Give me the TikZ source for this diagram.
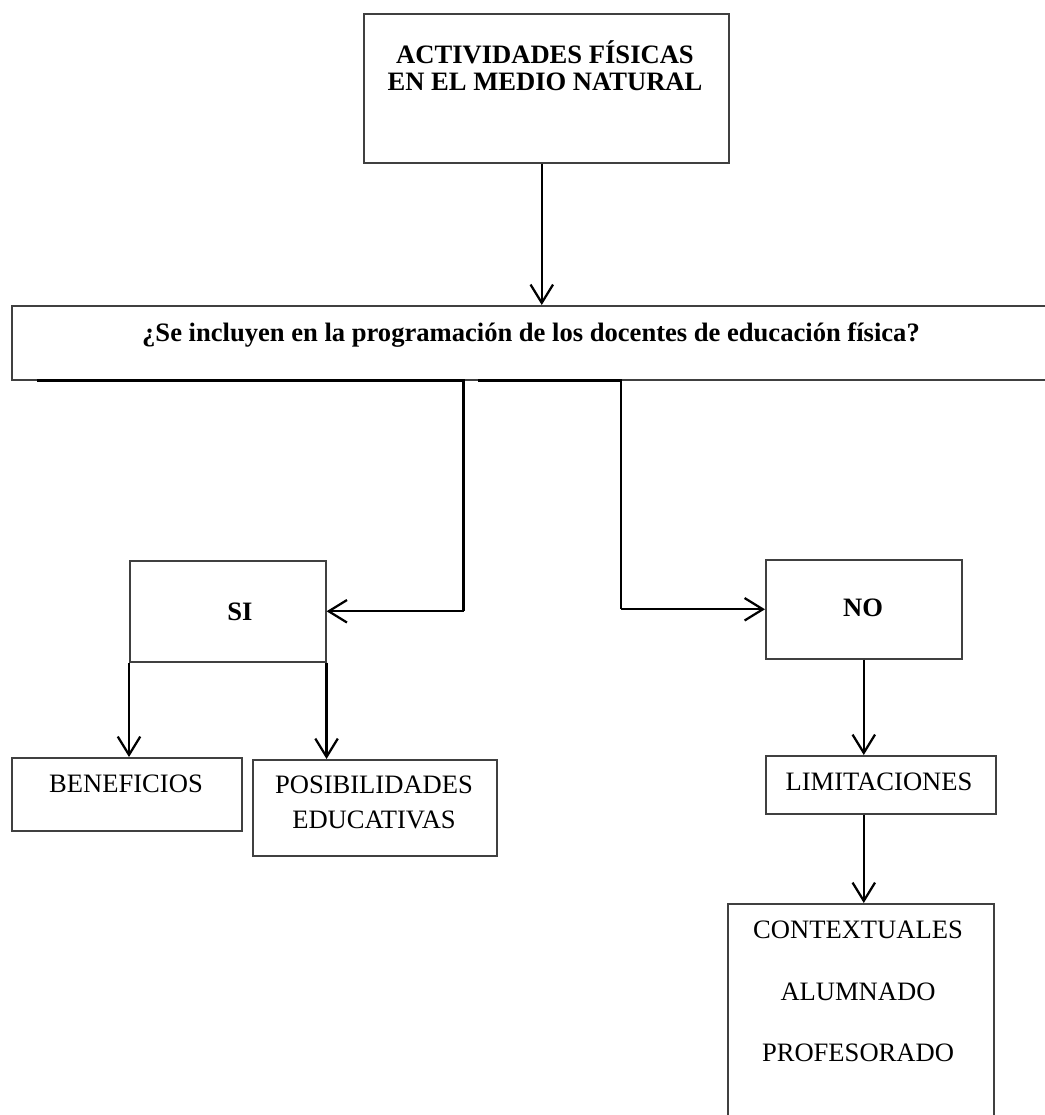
\documentclass[tikz,border=0pt]{standalone}
\usepackage{fontspec}
\setmainfont{Liberation Serif}
\usetikzlibrary{arrows.meta,calc}
\definecolor{boxgray}{HTML}{404040}
\newlength\px
\setlength\px{0.025cm}
\tikzset{
  every picture/.style={
    line join=miter,
    >={Straight Barb[length=13pt,width=16pt]},
  },
  box/.style={draw=boxgray, line width=1.1pt, anchor=north west, inner sep=0pt},
  link/.style={->, black, line width=1.6pt},
  lbl/.style={font=\fontsize{18.9}{25}\selectfont, align=center, inner sep=0pt},
  head/.style={lbl, font=\fontsize{18.9}{19.5}\selectfont\bfseries},
}
\begin{document}
\begin{tikzpicture}[x=\px,y=-\px]
\useasboundingbox (0,0) rectangle (1044,1115);
% boxes (the question box and the last box run past the page edge)
\node[box, minimum width=365\px, minimum height=149\px] (top) at (363,13) {};
\node[box, minimum width=1060\px, minimum height=74\px] (q) at (11,305) {};
\node[box, minimum width=196\px, minimum height=101\px] (si) at (129,560) {};
\node[box, minimum width=196\px, minimum height=99\px] (no) at (765,559) {};
\node[box, minimum width=230\px, minimum height=73\px] (ben) at (11,757) {};
\node[box, minimum width=244\px, minimum height=96\px] (pos) at (252,759) {};
\node[box, minimum width=230\px, minimum height=58\px] (lim) at (765,755) {};
\node[box, minimum width=266\px, minimum height=240\px] (cont) at (727,903) {};
% texts
\node[head] (topt) at (545,66) {ACTIVIDADES FÍSICAS\\EN EL MEDIO NATURAL};
\node[head] (qt) at (531,335) {¿Se incluyen en la programación de los docentes de educación física?};
\node[head] (sit) at (240,612) {SI};
\node[head] (not) at (863,608) {NO};
\node[lbl] (bent) at (126,784) {BENEFICIOS};
\node[lbl] (post) at (374,802) {POSIBILIDADES\\EDUCATIVAS};
\node[lbl] (limt) at (879,782) {LIMITACIONES};
\node[lbl] (ct1) at (858,930) {CONTEXTUALES};
\node[lbl] (ct2) at (858,992) {ALUMNADO};
\node[lbl] (ct3) at (858,1053) {PROFESORADO};
% connectors
\coordinate (qa) at ($(q.south west)+(26,0)$);
\coordinate (qb) at ($(q.south west)+(467,0)$);
\draw[link] (top.south -| q.north) -- (q.north);
\draw[link,-] (qa) -| ($(si.east)+(137,0)$);
\draw[link] ($(si.east)+(137,0)$) -- (si.east);
\draw[link,-] (qb) -| ($(no.west)+(-144,0)$);
\draw[link] ($(no.west)+(-144,0)$) -- (no.west);
\draw[link] (si.south west) -- (si.south west |- ben.north);
\draw[link] (si.south east) -- (si.south east |- pos.north);
\draw[link] (no.south) -- (no.south |- lim.north);
\draw[link] (no.south |- lim.south) -- (no.south |- cont.north);
\end{tikzpicture}
\end{document}
